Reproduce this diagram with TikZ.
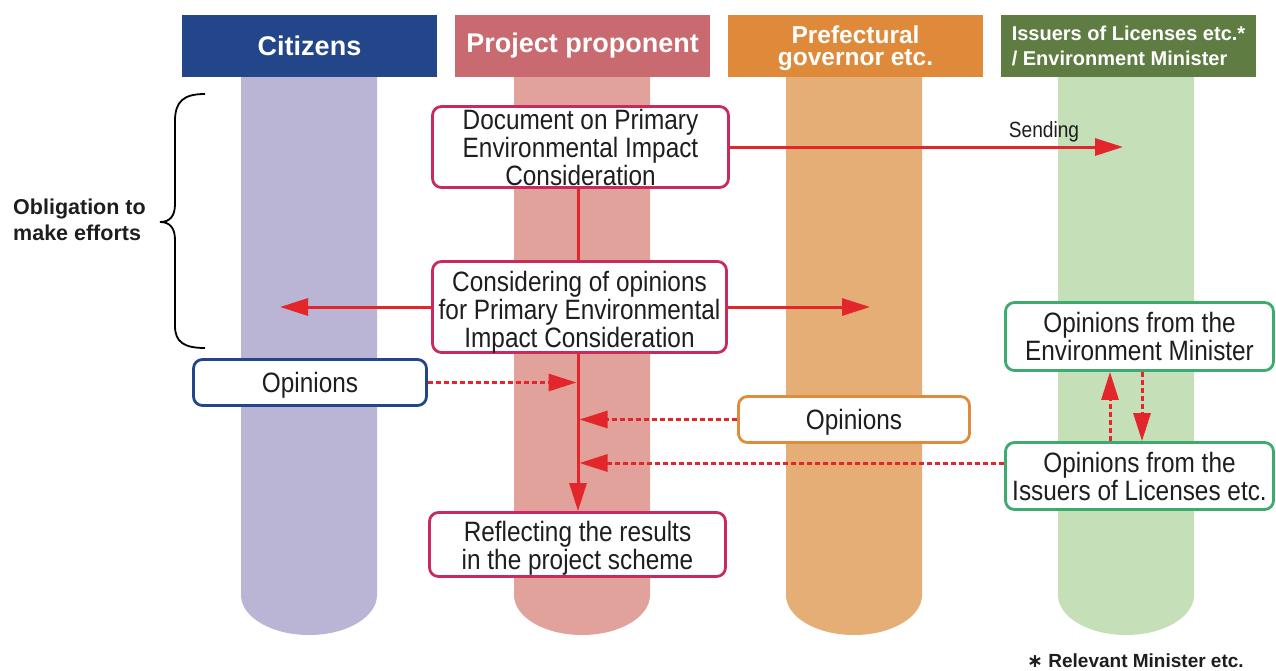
\documentclass[tikz,border=0pt]{standalone}
\usepackage{fontspec}
\setmainfont{Liberation Sans}
\newfontfamily\bxfont[FakeStretch=0.87]{Liberation Sans}
\newfontfamily\djv{DejaVu Sans}
\usetikzlibrary{arrows.meta}
\definecolor{hCit}{HTML}{23458A}
\definecolor{hPro}{HTML}{C86A6F}
\definecolor{hPre}{HTML}{DE8A3A}
\definecolor{hIss}{HTML}{5F7D42}
\definecolor{cCit}{HTML}{BAB5D4}
\definecolor{cPro}{HTML}{E0A29B}
\definecolor{cPre}{HTML}{E4AE76}
\definecolor{cIss}{HTML}{C5E0B8}
\definecolor{bPro}{HTML}{C92A5E}
\definecolor{bPre}{HTML}{E08A3C}
\definecolor{bIss}{HTML}{3DAA6E}
\definecolor{arr}{HTML}{E2262B}
\definecolor{txt}{HTML}{1E1E1E}
\begin{document}
\begin{tikzpicture}[x=1pt,y=-1pt,
  boxtext/.style={align=center, inner sep=0pt, font=\bxfont\fontsize{28}{28}\selectfont, text=txt},
  box/.style={draw, line width=2.8pt, rounded corners=9pt, fill=white, boxtext},
  hdr/.style={inner sep=0pt, text=white, minimum width=255pt, minimum height=62pt},
  redl/.style={draw=arr, line width=3pt},
  tip/.style={-{Triangle[length=28pt,width=17pt]}},
  dots/.style={dash pattern=on 5pt off 3pt},
]
\useasboundingbox (0,0) rectangle (1276,670);
% columns
\foreach \xa/\c in {241/cCit,514/cPro,786/cPre,1058/cIss} {
  \fill[\c] (\xa,70) -- (\xa,595) arc[start angle=180,end angle=0,x radius=68,y radius=40] -- ({\xa+136},70) -- cycle;
}
% headers
\node[hdr, fill=hCit, font=\bfseries\fontsize{27}{27}\selectfont] (hcit) at (309.5,46) {Citizens};
\node[hdr, fill=hPro, font=\bfseries\fontsize{27}{27}\selectfont] (hpro) at (582.5,46) {Project proponent};
\node[hdr, fill=hPre, align=center, font=\bfseries\fontsize{24.5}{22}\selectfont] (hpre) at (855.5,46) {\rule{0pt}{22pt}Prefectural\\governor etc.};
\node[hdr, fill=hIss, align=left, font=\bfseries\fontsize{20}{25}\selectfont] (hiss) at (1128.5,46) {Issuers of Licenses etc.*\\/ Environment Minister};
% brace and label
\draw[line width=1.8pt, black] (205,94) .. controls (184,94) and (175,101) .. (175,121) -- (175,204)
  .. controls (175,216) and (170,222) .. (160,222) .. controls (170,222) and (175,228) .. (175,240)
  -- (175,326) .. controls (175,342) and (184,348) .. (205,348);
\node[anchor=west, align=left, inner sep=0pt, text=txt, font=\bfseries\fontsize{21.5}{26}\selectfont] (oblig) at (13,220) {Obligation to\\make efforts};
% spine coordinate
\coordinate (sp) at (578,0);
% boxes
\node[box, draw=bPro, minimum width=296pt, minimum height=81pt] (doc) at (580.5,147) {Document on Primary\\Environmental Impact\\Consideration};
\node[box, draw=bPro, minimum width=294pt, minimum height=91pt,
  label={[boxtext, yshift=-5pt]center:{Considering of opinions\\for Primary Environmental\\Impact Consideration}}] (cons) at (579.5,307) {};
\node[box, draw=hCit, minimum width=233pt, minimum height=46pt,
  label={[boxtext, yshift=-3pt]center:{Opinions}}] (opcit) at (310,382.5) {};
\node[box, draw=bPre, minimum width=231pt, minimum height=46pt,
  label={[boxtext, yshift=-3pt]center:{Opinions}}] (oppref) at (854,419.5) {};
\node[box, draw=bIss, minimum width=268pt, minimum height=68pt] (openv) at (1139.5,336.5) {Opinions from the\\Environment Minister};
\node[box, draw=bIss, minimum width=268pt, minimum height=67pt] (opiss) at (1139.5,476) {Opinions from the\\Issuers of Licenses etc.};
\node[box, draw=bPro, minimum width=296pt, minimum height=64pt,
  label={[boxtext, yshift=-4pt]center:{Reflecting the results\\in the project scheme}}] (refl) at (577.5,544.5) {};
% connectors
\coordinate (sendend) at (1123,147);
\coordinate (cl) at (280,307);
\coordinate (cr) at (870,307);
\draw[redl] (doc.south -| sp) -- (cons.north -| sp);
\draw[redl,tip] (doc.east) -- (sendend);
\node[font=\bxfont\fontsize{22}{22}\selectfont, text=txt] (sendlbl) at (1044,132) {Sending};
\draw[redl,tip] (cons.west) -- (cl);
\draw[redl,tip] (cons.east) -- (cr);
\draw[redl,tip] (cons.south -| sp) -- (refl.north -| sp);
\draw[redl,dots,tip] (opcit.east) -- ([xshift=-1.5pt]sp |- opcit.east);
\draw[redl,dots,tip] (oppref.west) -- ([xshift=1.5pt]sp |- oppref.west);
\coordinate (issout) at ([yshift=13pt]opiss.west);
\draw[redl,dots,tip] (issout) -- ([xshift=1.5pt]sp |- issout);
\draw[redl,dots,tip] ([xshift=-29.5pt]opiss.north) -- ([xshift=-29.5pt]openv.south);
\draw[redl,dots,tip] ([xshift=2.5pt]openv.south) -- ([xshift=2.5pt]opiss.north);
% footnote
\node[anchor=west, inner sep=0pt, text=txt, font=\bfseries\fontsize{19}{19}\selectfont] (fn) at (1027,661) {{\djv\bfseries ∗}\ Relevant Minister etc.};
\end{tikzpicture}
\end{document}
